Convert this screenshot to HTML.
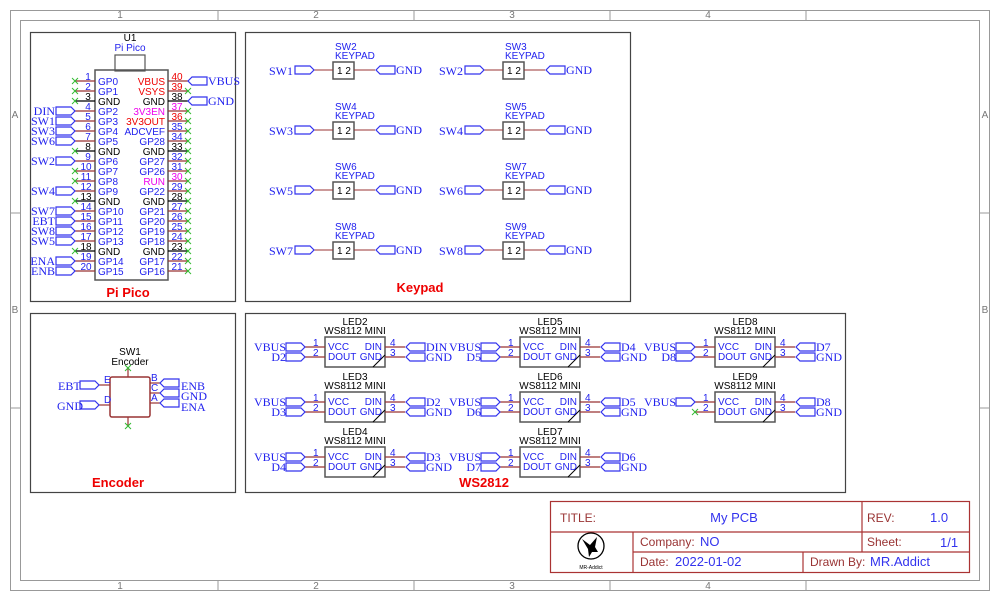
<!DOCTYPE html>
<html><head><meta charset="utf-8"><style>
html,body{margin:0;padding:0;background:#fff}
svg{display:block}
.s{font-family:"Liberation Sans",sans-serif;font-size:10px}
.n{font-family:"Liberation Serif",serif;font-size:12px;fill:#2222ee}
.b{fill:#2222ee}.r{fill:#ee0000}.m{fill:#ee00ee}.k{fill:#000}
.t{font-family:"Liberation Sans",sans-serif;font-size:12px}
</style></head><body>
<svg width="1000" height="601" viewBox="0 0 1000 601" xmlns="http://www.w3.org/2000/svg">
<defs>
<polygon id="fr" points="0,-4 15,-4 19,0 15,4 0,4" fill="none" stroke="#3333ee" stroke-width="1.2"/>
<polygon id="fl" points="0,0 4,-4 19,-4 19,4 4,4" fill="none" stroke="#3333ee" stroke-width="1.2"/>
<g id="x"><line x1="-3" y1="-3" x2="3" y2="3" stroke="#33bb33"/><line x1="-3" y1="3" x2="3" y2="-3" stroke="#33bb33"/></g>
<g id="kp">
<rect x="333" y="62" width="21" height="17" fill="none" stroke="#555" stroke-width="1.5"/>
<line x1="314" y1="70" x2="333" y2="70" stroke="#993333"/>
<line x1="354" y1="70" x2="375" y2="70" stroke="#993333"/>
<use href="#fr" x="295" y="70"/><use href="#fl" x="376" y="70"/>
</g>
<g id="led">
<rect x="325" y="337" width="60" height="30" fill="none" stroke="#555" stroke-width="1.5"/>
<line x1="373" y1="367" x2="385" y2="355" stroke="#000"/>
<line x1="305" y1="347" x2="325" y2="347" stroke="#993333" stroke-width="1.2"/>
<line x1="305" y1="357" x2="325" y2="357" stroke="#993333" stroke-width="1.2"/>
<line x1="385" y1="347" x2="405" y2="347" stroke="#993333" stroke-width="1.2"/>
<line x1="385" y1="357" x2="405" y2="357" stroke="#993333" stroke-width="1.2"/>
<use href="#fl" x="406" y="347"/><use href="#fl" x="406" y="357"/>
</g>
</defs>
<!-- frame -->
<rect x="10.5" y="10.5" width="979" height="580" fill="none" stroke="#999"/>
<rect x="20.5" y="20.5" width="959" height="560" fill="none" stroke="#999"/>
<g stroke="#999">
<line x1="218" y1="10" x2="218" y2="20"/><line x1="414" y1="10" x2="414" y2="20"/><line x1="610" y1="10" x2="610" y2="20"/><line x1="806" y1="10" x2="806" y2="20"/>
<line x1="218" y1="581" x2="218" y2="591"/><line x1="414" y1="581" x2="414" y2="591"/><line x1="610" y1="581" x2="610" y2="591"/><line x1="806" y1="581" x2="806" y2="591"/>
<line x1="10" y1="213" x2="20" y2="213"/><line x1="10" y1="408" x2="20" y2="408"/>
<line x1="980" y1="213" x2="990" y2="213"/><line x1="980" y1="408" x2="990" y2="408"/>
</g>
<g class="s" fill="#777" text-anchor="middle" font-size="8">
<text x="120" y="18">1</text><text x="316" y="18">2</text><text x="512" y="18">3</text><text x="708" y="18">4</text>
<text x="120" y="589">1</text><text x="316" y="589">2</text><text x="512" y="589">3</text><text x="708" y="589">4</text>
<text x="15" y="118">A</text><text x="15" y="313">B</text><text x="985" y="118">A</text><text x="985" y="313">B</text>
</g>
<!-- section boxes -->
<g fill="none" stroke="#444" stroke-width="1.2">
<rect x="30.5" y="32.5" width="205" height="269"/>
<rect x="245.5" y="32.5" width="385" height="269"/>
<rect x="30.5" y="313.5" width="205" height="179"/>
<rect x="245.5" y="313.5" width="600" height="179"/>
</g>
<g font-family="Liberation Sans,sans-serif" font-weight="bold" font-size="13" fill="#ee0000" text-anchor="middle">
<text x="128" y="297">Pi Pico</text><text x="420" y="292">Keypad</text><text x="118" y="487">Encoder</text><text x="484" y="487">WS2812</text>
</g>
<!-- Pi Pico -->
<text class="s k" x="130" y="41" text-anchor="middle">U1</text>
<text class="s b" x="130" y="51" text-anchor="middle">Pi Pico</text>
<rect x="95" y="70" width="73" height="210" fill="none" stroke="#555" stroke-width="1.5"/>
<rect x="115" y="55" width="30" height="16" fill="none" stroke="#555" stroke-width="1.2"/>
<g stroke="#993333" stroke-width="1.2">
<line x1="75" y1="81" x2="95" y2="81"/><line x1="75" y1="91" x2="95" y2="91"/><line x1="75" y1="101" x2="95" y2="101" stroke="#000"/>
<line x1="75" y1="111" x2="95" y2="111"/><line x1="75" y1="121" x2="95" y2="121"/><line x1="75" y1="131" x2="95" y2="131"/><line x1="75" y1="141" x2="95" y2="141"/>
<line x1="75" y1="151" x2="95" y2="151" stroke="#000"/><line x1="75" y1="161" x2="95" y2="161"/><line x1="75" y1="171" x2="95" y2="171"/><line x1="75" y1="181" x2="95" y2="181"/><line x1="75" y1="191" x2="95" y2="191"/>
<line x1="75" y1="201" x2="95" y2="201" stroke="#000"/><line x1="75" y1="211" x2="95" y2="211"/><line x1="75" y1="221" x2="95" y2="221"/><line x1="75" y1="231" x2="95" y2="231"/><line x1="75" y1="241" x2="95" y2="241"/>
<line x1="75" y1="251" x2="95" y2="251" stroke="#000"/><line x1="75" y1="261" x2="95" y2="261"/><line x1="75" y1="271" x2="95" y2="271"/>
<line x1="168" y1="81" x2="188" y2="81"/><line x1="168" y1="91" x2="188" y2="91"/><line x1="168" y1="101" x2="188" y2="101" stroke="#000"/>
<line x1="168" y1="111" x2="188" y2="111"/><line x1="168" y1="121" x2="188" y2="121"/><line x1="168" y1="131" x2="188" y2="131"/><line x1="168" y1="141" x2="188" y2="141"/>
<line x1="168" y1="151" x2="188" y2="151" stroke="#000"/><line x1="168" y1="161" x2="188" y2="161"/><line x1="168" y1="171" x2="188" y2="171"/><line x1="168" y1="181" x2="188" y2="181"/><line x1="168" y1="191" x2="188" y2="191"/>
<line x1="168" y1="201" x2="188" y2="201" stroke="#000"/><line x1="168" y1="211" x2="188" y2="211"/><line x1="168" y1="221" x2="188" y2="221"/><line x1="168" y1="231" x2="188" y2="231"/><line x1="168" y1="241" x2="188" y2="241"/>
<line x1="168" y1="251" x2="188" y2="251" stroke="#000"/><line x1="168" y1="261" x2="188" y2="261"/><line x1="168" y1="271" x2="188" y2="271"/>
</g>
<g class="s" text-anchor="middle">
<text class="b" x="88" y="80">1</text><text class="b" x="88" y="90">2</text><text class="k" x="88" y="100">3</text><text class="b" x="88" y="110">4</text><text class="b" x="88" y="120">5</text><text class="b" x="88" y="130">6</text><text class="b" x="88" y="140">7</text><text class="k" x="88" y="150">8</text><text class="b" x="88" y="160">9</text><text class="b" x="86" y="170">10</text>
<text class="b" x="86" y="180">11</text><text class="b" x="86" y="190">12</text><text class="k" x="86" y="200">13</text><text class="b" x="86" y="210">14</text><text class="b" x="86" y="220">15</text><text class="b" x="86" y="230">16</text><text class="b" x="86" y="240">17</text><text class="k" x="86" y="250">18</text><text class="b" x="86" y="260">19</text><text class="b" x="86" y="270">20</text>
<text class="r" x="177" y="80">40</text><text class="r" x="177" y="90">39</text><text class="k" x="177" y="100">38</text><text class="m" x="177" y="110">37</text><text class="r" x="177" y="120">36</text><text class="b" x="177" y="130">35</text><text class="b" x="177" y="140">34</text><text class="k" x="177" y="150">33</text><text class="b" x="177" y="160">32</text><text class="b" x="177" y="170">31</text>
<text class="m" x="177" y="180">30</text><text class="b" x="177" y="190">29</text><text class="k" x="177" y="200">28</text><text class="b" x="177" y="210">27</text><text class="b" x="177" y="220">26</text><text class="b" x="177" y="230">25</text><text class="b" x="177" y="240">24</text><text class="k" x="177" y="250">23</text><text class="b" x="177" y="260">22</text><text class="b" x="177" y="270">21</text>
</g>
<g class="s">
<text class="b" x="98" y="85">GP0</text><text class="b" x="98" y="95">GP1</text><text class="k" x="98" y="105">GND</text><text class="b" x="98" y="115">GP2</text><text class="b" x="98" y="125">GP3</text><text class="b" x="98" y="135">GP4</text><text class="b" x="98" y="145">GP5</text><text class="k" x="98" y="155">GND</text><text class="b" x="98" y="165">GP6</text><text class="b" x="98" y="175">GP7</text>
<text class="b" x="98" y="185">GP8</text><text class="b" x="98" y="195">GP9</text><text class="k" x="98" y="205">GND</text><text class="b" x="98" y="215">GP10</text><text class="b" x="98" y="225">GP11</text><text class="b" x="98" y="235">GP12</text><text class="b" x="98" y="245">GP13</text><text class="k" x="98" y="255">GND</text><text class="b" x="98" y="265">GP14</text><text class="b" x="98" y="275">GP15</text>
</g>
<g class="s" text-anchor="end">
<text class="r" x="165" y="85">VBUS</text><text class="r" x="165" y="95">VSYS</text><text class="k" x="165" y="105">GND</text><text class="m" x="165" y="115">3V3EN</text><text class="r" x="165" y="125">3V3OUT</text><text class="b" x="165" y="135">ADCVEF</text><text class="b" x="165" y="145">GP28</text><text class="k" x="165" y="155">GND</text><text class="b" x="165" y="165">GP27</text><text class="b" x="165" y="175">GP26</text>
<text class="m" x="165" y="185">RUN</text><text class="b" x="165" y="195">GP22</text><text class="k" x="165" y="205">GND</text><text class="b" x="165" y="215">GP21</text><text class="b" x="165" y="225">GP20</text><text class="b" x="165" y="235">GP19</text><text class="b" x="165" y="245">GP18</text><text class="k" x="165" y="255">GND</text><text class="b" x="165" y="265">GP17</text><text class="b" x="165" y="275">GP16</text>
</g>
<g>
<use href="#x" x="75" y="81"/><use href="#x" x="75" y="91"/><use href="#x" x="75" y="101"/><use href="#x" x="75" y="151"/><use href="#x" x="75" y="171"/><use href="#x" x="75" y="181"/><use href="#x" x="75" y="201"/><use href="#x" x="75" y="251"/>
<use href="#x" x="188" y="91"/><use href="#x" x="188" y="111"/><use href="#x" x="188" y="121"/><use href="#x" x="188" y="131"/><use href="#x" x="188" y="141"/><use href="#x" x="188" y="151"/><use href="#x" x="188" y="161"/><use href="#x" x="188" y="171"/><use href="#x" x="188" y="181"/><use href="#x" x="188" y="191"/><use href="#x" x="188" y="201"/><use href="#x" x="188" y="211"/><use href="#x" x="188" y="221"/><use href="#x" x="188" y="231"/><use href="#x" x="188" y="241"/><use href="#x" x="188" y="251"/><use href="#x" x="188" y="261"/><use href="#x" x="188" y="271"/>
<use href="#fr" x="56" y="111"/><use href="#fr" x="56" y="121"/><use href="#fr" x="56" y="131"/><use href="#fr" x="56" y="141"/><use href="#fr" x="56" y="161"/><use href="#fr" x="56" y="191"/><use href="#fr" x="56" y="211"/><use href="#fr" x="56" y="221"/><use href="#fr" x="56" y="231"/><use href="#fr" x="56" y="241"/><use href="#fr" x="56" y="261"/><use href="#fr" x="56" y="271"/>
<use href="#fl" x="188" y="81"/><use href="#fl" x="188" y="101"/>
</g>
<g class="n" text-anchor="end">
<text x="55" y="115">DIN</text><text x="55" y="125">SW1</text><text x="55" y="135">SW3</text><text x="55" y="145">SW6</text><text x="55" y="165">SW2</text><text x="55" y="195">SW4</text><text x="55" y="215">SW7</text><text x="55" y="225">EBT</text><text x="55" y="235">SW8</text><text x="55" y="245">SW5</text><text x="55" y="265">ENA</text><text x="55" y="275">ENB</text>
</g>
<text class="n" x="208" y="85">VBUS</text><text class="n" x="208" y="105">GND</text>
<!-- Keypad -->
<use href="#kp"/><use href="#kp" x="170"/>
<use href="#kp" y="60"/><use href="#kp" x="170" y="60"/>
<use href="#kp" y="120"/><use href="#kp" x="170" y="120"/>
<use href="#kp" y="180"/><use href="#kp" x="170" y="180"/>
<g class="s b">
<text x="335" y="50">SW2</text><text x="335" y="59">KEYPAD</text><text x="505" y="50">SW3</text><text x="505" y="59">KEYPAD</text>
<text x="335" y="110">SW4</text><text x="335" y="119">KEYPAD</text><text x="505" y="110">SW5</text><text x="505" y="119">KEYPAD</text>
<text x="335" y="170">SW6</text><text x="335" y="179">KEYPAD</text><text x="505" y="170">SW7</text><text x="505" y="179">KEYPAD</text>
<text x="335" y="230">SW8</text><text x="335" y="239">KEYPAD</text><text x="505" y="230">SW9</text><text x="505" y="239">KEYPAD</text>
</g>
<g class="s k">
<text x="337" y="74">1 2</text><text x="507" y="74">1 2</text><text x="337" y="134">1 2</text><text x="507" y="134">1 2</text>
<text x="337" y="194">1 2</text><text x="507" y="194">1 2</text><text x="337" y="254">1 2</text><text x="507" y="254">1 2</text>
</g>
<g class="n">
<text x="396" y="74">GND</text><text x="566" y="74">GND</text><text x="396" y="134">GND</text><text x="566" y="134">GND</text>
<text x="396" y="194">GND</text><text x="566" y="194">GND</text><text x="396" y="254">GND</text><text x="566" y="254">GND</text>
</g>
<g class="n" text-anchor="end">
<text x="293" y="75">SW1</text><text x="463" y="75">SW2</text><text x="293" y="135">SW3</text><text x="463" y="135">SW4</text>
<text x="293" y="195">SW5</text><text x="463" y="195">SW6</text><text x="293" y="255">SW7</text><text x="463" y="255">SW8</text>
</g>
<!-- Encoder -->
<text class="s k" x="130" y="355" text-anchor="middle">SW1</text>
<text class="s k" x="130" y="365" text-anchor="middle">Encoder</text>
<rect x="110" y="377" width="40" height="40" rx="2" fill="none" stroke="#993333" stroke-width="1.5"/>
<g stroke="#993333" stroke-width="1.2">
<line x1="99" y1="385" x2="110" y2="385"/><line x1="99" y1="405" x2="110" y2="405"/>
<line x1="150" y1="383" x2="160" y2="383"/><line x1="150" y1="393" x2="160" y2="393"/><line x1="150" y1="403" x2="160" y2="403"/>
<line x1="128" y1="368" x2="128" y2="377"/><line x1="128" y1="417" x2="128" y2="426"/>
</g>
<use href="#x" x="128" y="368"/><use href="#x" x="128" y="426"/>
<use href="#fr" x="80" y="385"/><use href="#fr" x="80" y="405"/>
<use href="#fl" x="160" y="383"/><use href="#fl" x="160" y="393"/><use href="#fl" x="160" y="403"/>
<g class="s b" font-size="9"><text x="104" y="383">E</text><text x="104" y="403">D</text><text x="151" y="381">B</text><text x="151" y="391">C</text><text x="151" y="401">A</text></g>
<g class="n"><text x="58" y="390">EBT</text><text x="57" y="410">GND</text><text x="181" y="390">ENB</text><text x="181" y="400">GND</text><text x="181" y="411">ENA</text></g>
<!-- LEDs -->
<use href="#led"/><use href="#led" y="55"/><use href="#led" y="110"/>
<use href="#led" x="195"/><use href="#led" x="195" y="55"/><use href="#led" x="195" y="110"/>
<use href="#led" x="390"/><use href="#led" x="390" y="55"/>
<use href="#fr" x="286" y="347"/><use href="#fr" x="286" y="357"/>
<use href="#fr" x="286" y="402"/><use href="#fr" x="286" y="412"/>
<use href="#fr" x="286" y="457"/><use href="#fr" x="286" y="467"/>
<use href="#fr" x="481" y="347"/><use href="#fr" x="481" y="357"/>
<use href="#fr" x="481" y="402"/><use href="#fr" x="481" y="412"/>
<use href="#fr" x="481" y="457"/><use href="#fr" x="481" y="467"/>
<use href="#fr" x="676" y="347"/><use href="#fr" x="676" y="357"/>
<use href="#fr" x="676" y="402"/><use href="#x" x="695" y="412"/>
<g class="s k" text-anchor="middle">
<text x="355" y="325">LED2</text><text x="355" y="380">LED3</text><text x="355" y="435">LED4</text>
<text x="550" y="325">LED5</text><text x="550" y="380">LED6</text><text x="550" y="435">LED7</text>
<text x="745" y="325">LED8</text><text x="745" y="380">LED9</text>
<text x="355" y="334">WS8112 MINI</text><text x="355" y="389">WS8112 MINI</text><text x="355" y="444">WS8112 MINI</text>
<text x="550" y="334">WS8112 MINI</text><text x="550" y="389">WS8112 MINI</text><text x="550" y="444">WS8112 MINI</text>
<text x="745" y="334">WS8112 MINI</text><text x="745" y="389">WS8112 MINI</text>
</g>
<g class="s b">
<text x="328" y="350">VCC</text><text x="328" y="360">DOUT</text><text x="328" y="405">VCC</text><text x="328" y="415">DOUT</text><text x="328" y="460">VCC</text><text x="328" y="470">DOUT</text>
<text x="523" y="350">VCC</text><text x="523" y="360">DOUT</text><text x="523" y="405">VCC</text><text x="523" y="415">DOUT</text><text x="523" y="460">VCC</text><text x="523" y="470">DOUT</text>
<text x="718" y="350">VCC</text><text x="718" y="360">DOUT</text><text x="718" y="405">VCC</text><text x="718" y="415">DOUT</text>
<text x="313" y="346">1</text><text x="313" y="356">2</text><text x="313" y="401">1</text><text x="313" y="411">2</text><text x="313" y="456">1</text><text x="313" y="466">2</text>
<text x="508" y="346">1</text><text x="508" y="356">2</text><text x="508" y="401">1</text><text x="508" y="411">2</text><text x="508" y="456">1</text><text x="508" y="466">2</text>
<text x="703" y="346">1</text><text x="703" y="356">2</text><text x="703" y="401">1</text><text x="703" y="411">2</text>
<text x="390" y="346">4</text><text x="390" y="356">3</text><text x="390" y="401">4</text><text x="390" y="411">3</text><text x="390" y="456">4</text><text x="390" y="466">3</text>
<text x="585" y="346">4</text><text x="585" y="356">3</text><text x="585" y="401">4</text><text x="585" y="411">3</text><text x="585" y="456">4</text><text x="585" y="466">3</text>
<text x="780" y="346">4</text><text x="780" y="356">3</text><text x="780" y="401">4</text><text x="780" y="411">3</text>
</g>
<g class="s b" text-anchor="end">
<text x="382" y="350">DIN</text><text x="382" y="360">GND</text><text x="382" y="405">DIN</text><text x="382" y="415">GND</text><text x="382" y="470">GND</text><text x="382" y="460">DIN</text>
<text x="577" y="350">DIN</text><text x="577" y="360">GND</text><text x="577" y="405">DIN</text><text x="577" y="415">GND</text><text x="577" y="460">DIN</text><text x="577" y="470">GND</text>
<text x="772" y="350">DIN</text><text x="772" y="360">GND</text><text x="772" y="405">DIN</text><text x="772" y="415">GND</text>
</g>
<g class="n" text-anchor="end">
<text x="286" y="351">VBUS</text><text x="286" y="361">D2</text><text x="286" y="406">VBUS</text><text x="286" y="416">D3</text><text x="286" y="461">VBUS</text><text x="286" y="471">D4</text>
<text x="481" y="351">VBUS</text><text x="481" y="361">D5</text><text x="481" y="406">VBUS</text><text x="481" y="416">D6</text><text x="481" y="461">VBUS</text><text x="481" y="471">D7</text>
<text x="676" y="351">VBUS</text><text x="676" y="361">D8</text><text x="676" y="406">VBUS</text>
</g>
<g class="n">
<text x="426" y="351">DIN</text><text x="426" y="361">GND</text><text x="426" y="406">D2</text><text x="426" y="416">GND</text><text x="426" y="461">D3</text><text x="426" y="471">GND</text>
<text x="621" y="351">D4</text><text x="621" y="361">GND</text><text x="621" y="406">D5</text><text x="621" y="416">GND</text><text x="621" y="461">D6</text><text x="621" y="471">GND</text>
<text x="816" y="351">D7</text><text x="816" y="361">GND</text><text x="816" y="406">D8</text><text x="816" y="416">GND</text>
</g>
<!-- Title block -->
<g fill="none" stroke="#aa3333" stroke-width="1.2">
<rect x="550.5" y="501.5" width="419" height="71"/>
<line x1="550" y1="532" x2="970" y2="532"/><line x1="633" y1="552" x2="970" y2="552"/>
<line x1="633" y1="532" x2="633" y2="572"/><line x1="862" y1="501" x2="862" y2="552"/><line x1="803" y1="552" x2="803" y2="572"/>
</g>
<g class="t">
<text x="560" y="522" fill="#993333">TITLE:</text><text x="734" y="522" fill="#3333ee" font-size="13" text-anchor="middle">My PCB</text>
<text x="867" y="522" fill="#993333">REV:</text><text x="930" y="522" fill="#3333ee" font-size="13">1.0</text>
<text x="640" y="546" fill="#993333">Company:</text><text x="700" y="546" fill="#3333ee" font-size="13">NO</text>
<text x="867" y="546" fill="#993333">Sheet:</text><text x="940" y="547" fill="#3333ee" font-size="13">1/1</text>
<text x="640" y="566" fill="#993333">Date:</text><text x="675" y="566" fill="#3333ee" font-size="13">2022-01-02</text>
<text x="810" y="566" fill="#993333">Drawn By:</text><text x="870" y="566" fill="#3333ee" font-size="13">MR.Addict</text>
</g>
<circle cx="591" cy="546" r="13" fill="none" stroke="#000" stroke-width="1.3"/>
<path d="M582,539 L590,545 L597,537 L595,547 L598,552 L592,552 L589,557 L588,549 Z" fill="#000"/>
<text x="591" y="569" text-anchor="middle" font-family="Liberation Sans,sans-serif" font-size="5" fill="#000">MR-Addict</text>
</svg>
</body></html>
